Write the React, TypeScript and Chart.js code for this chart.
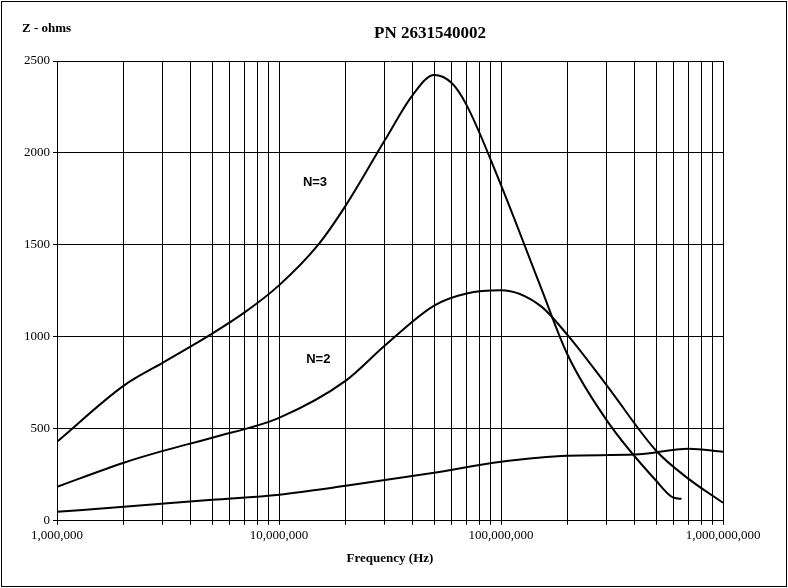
import React, { useEffect, useRef } from "react";
import { Chart, registerables } from "chart.js";
Chart.register(...registerables);

const freqN3 = [1e6, 2e6, 3e6, 5e6, 7e6, 1e7, 1.5e7, 2e7, 3e7, 4e7, 5e7, 6e7, 7e7, 1e8, 1.5e8, 2e8, 3e8, 5e8, 6e8, 6.5e8];
const zN3 = [430, 735, 860, 1018, 1133, 1280, 1500, 1715, 2070, 2315, 2424, 2380, 2260, 1825, 1280, 900, 545, 218, 125, 120];
const freqN2 = [1e6, 2e6, 3e6, 5e6, 1e7, 2e7, 3e7, 5e7, 7e7, 1e8, 1.5e8, 2e8, 3e8, 5e8, 7e8, 1e9];
const zN2 = [185, 316, 380, 452, 560, 762, 953, 1170, 1236, 1253, 1170, 1008, 735, 381, 228, 98];
const freqN1 = [1e6, 2e6, 5e6, 1e7, 2e7, 5e7, 1e8, 2e8, 4e8, 7e8, 1e9];
const zN1 = [49, 76, 114, 142, 190, 261, 321, 354, 360, 392, 376];
const xTickLabels: Record<number, string> = { 1e6: "1,000,000", 1e7: "10,000,000", 1e8: "100,000,000", 1e9: "1,000,000,000" };

const serif = "'Liberation Serif', 'DejaVu Serif', serif";

export default function App() {
  const ref = useRef<HTMLCanvasElement>(null);
  useEffect(() => {
    document.body.style.margin = "0";
    const mk = (fx: number[], zy: number[]) => ({
      data: fx.map((f, i) => ({ x: f, y: zy[i] })),
      borderColor: "#000", borderWidth: 2, pointRadius: 0, cubicInterpolationMode: "monotone", fill: false,
    });
    const textPlugin = {
      id: "texts",
      afterDraw(c: any) {
        const ctx = c.ctx;
        const xs = c.scales.x, ys = c.scales.y;
        ctx.save();
        ctx.fillStyle = "#000";
        ctx.textBaseline = "middle";
        ctx.textAlign = "center";
        ctx.font = `bold 17px ${serif}`;
        ctx.fillText("PN 2631540002", 430, 34);
        ctx.textAlign = "left";
        ctx.font = `bold 13px ${serif}`;
        ctx.fillText("Z - ohms", 22, 29);
        ctx.font = "bold 13px 'Liberation Sans', Arial, sans-serif";
        ctx.fillText("N=3", xs.getPixelForValue(1.9e7) - 38, ys.getPixelForValue(1840));
        ctx.fillText("N=2", xs.getPixelForValue(1.7e7) - 24, ys.getPixelForValue(880));
        ctx.restore();
      },
    };
    const ch = new Chart(ref.current!, {
      type: "line",
      data: { datasets: [mk(freqN3, zN3), mk(freqN2, zN2), mk(freqN1, zN1)] as any },
      options: {
        animation: false, responsive: false,
        layout: { padding: { top: 61, right: 65, left: 21, bottom: 18 } },
        plugins: { legend: { display: false }, tooltip: { enabled: false } },
        scales: {
          x: {
            type: "logarithmic", min: 1e6, max: 1e9,
            afterBuildTicks: (s: any) => {
              const t: any[] = [];
              for (let d = 1e6; d <= 1e9; d *= 10) for (let m = 1; m <= 9; m++) { if (d * m <= 1e9) t.push({ value: d * m }); }
              s.ticks = t;
            },
            ticks: { autoSkip: false, maxRotation: 0, color: "#000", font: { family: serif, size: 13 },
              callback: (v: any) => xTickLabels[Number(v)] ?? "" },
            grid: { color: "#000", lineWidth: 1, drawTicks: true, tickLength: 4 },
            border: { color: "#000" },
            title: { display: true, text: "Frequency (Hz)", color: "#000", font: { family: serif, size: 13, weight: "bold" } },
          },
          y: {
            min: 0, max: 2500,
            ticks: { stepSize: 500, color: "#000", font: { family: serif, size: 13 }, callback: (v: any) => String(v) },
            grid: { color: "#000", lineWidth: 1, tickLength: 4 },
            border: { color: "#000" },
          },
        },
      },
      plugins: [textPlugin],
    } as any);
    return () => ch.destroy();
  }, []);
  return (
    <div style={{ width: 788, height: 588, position: "relative", background: "#fff" }}>
      <canvas ref={ref} width={788} height={588} style={{ display: "block" }} />
      <div style={{ position: "absolute", left: 1, top: 1, width: 784, height: 584, border: "1px solid #000", pointerEvents: "none" }} />
    </div>
  );
}
